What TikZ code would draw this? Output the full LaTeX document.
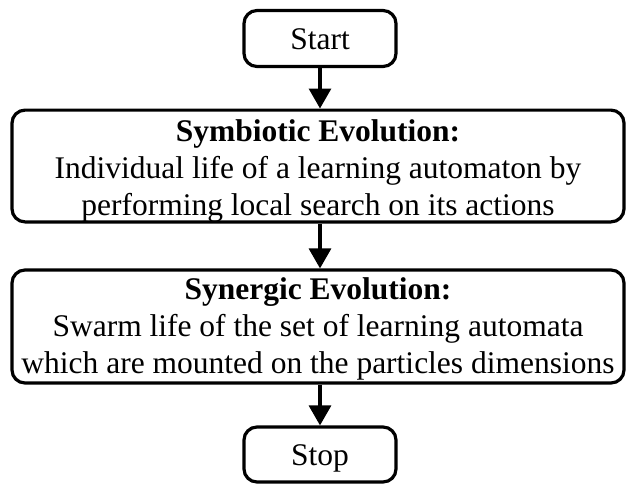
\documentclass[tikz,border=0pt]{standalone}
\usepackage{fontspec}
\setmainfont{Liberation Serif}
\usetikzlibrary{arrows.meta}
% invisible rule that sets the height of a first text line
\newcommand{\lineheightrule}[1]{\rule{0pt}{#1}}
\tikzset{
  flowbox/.style={draw=black, line width=3.2pt, rounded corners=13pt, fill=white,
    align=center, inner sep=0pt,
    font=\fontsize{31.5pt}{37pt}\selectfont},
  endbox/.style={flowbox, minimum width=152pt, minimum height=56pt,
    text height=21.5pt, text depth=0pt},
  stepbox/.style={flowbox, minimum width=612pt},
  flowarrow/.style={line width=3.2pt, -{Triangle[length=20pt,width=22pt]}}
}
\begin{document}
\begin{tikzpicture}[x=1pt,y=1pt]
  \useasboundingbox (0,0) rectangle (627,-483);
  \node[endbox] (start) at (320,-38.5) {Start};
  \node[stepbox, minimum height=110pt] (symb) at (318,-166)
    {\lineheightrule{31pt}\textbf{Symbiotic Evolution:}\\
     Individual life of a learning automaton by\\
     performing local search on its actions};
  \node[stepbox, minimum height=113pt] (syn) at (318,-326.5)
    {\lineheightrule{26pt}\textbf{Synergic Evolution:}\\
     Swarm life of the set of learning automata\\
     which are mounted on the particles dimensions};
  \node[endbox, minimum height=55pt] (stop) at (320,-454.5) {Stop};
  \draw[flowarrow] (start.south) -- (start.south |- symb.north);
  \draw[flowarrow] (start.south |- symb.south) -- (start.south |- syn.north);
  \draw[flowarrow] (start.south |- syn.south) -- (stop.north);
\end{tikzpicture}
\end{document}
